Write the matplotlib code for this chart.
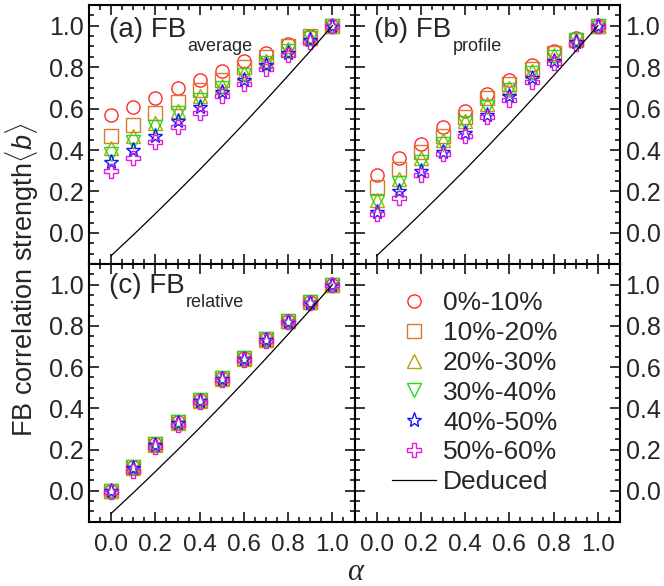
import numpy as np
import matplotlib
matplotlib.use('Agg')
import matplotlib.pyplot as plt
from matplotlib.ticker import MultipleLocator

plt.rcParams['font.family'] = ['Liberation Sans', 'DejaVu Sans']
plt.rcParams['mathtext.fontset'] = 'custom'
plt.rcParams['mathtext.rm'] = 'Liberation Sans'
plt.rcParams['mathtext.it'] = 'Liberation Sans:italic'
plt.rcParams['text.color'] = '#262626'
plt.rcParams['xtick.labelcolor'] = '#262626'
plt.rcParams['ytick.labelcolor'] = '#262626'

# data
alpha = [0.0, 0.1, 0.2, 0.3, 0.4, 0.5, 0.6, 0.7, 0.8, 0.9, 1.0]
labels = ['0%-10%', '10%-20%', '20%-30%', '30%-40%', '40%-50%', '50%-60%']

avg_b = [
    [0.57, 0.61, 0.65, 0.70, 0.74, 0.78, 0.83, 0.87, 0.91, 0.95, 1.00],
    [0.47, 0.52, 0.58, 0.63, 0.69, 0.74, 0.80, 0.85, 0.90, 0.95, 1.00],
    [0.41, 0.47, 0.53, 0.59, 0.66, 0.71, 0.77, 0.83, 0.89, 0.94, 1.00],
    [0.38, 0.44, 0.51, 0.58, 0.64, 0.70, 0.76, 0.82, 0.88, 0.94, 1.00],
    [0.34, 0.40, 0.47, 0.54, 0.61, 0.68, 0.74, 0.81, 0.87, 0.93, 1.00],
    [0.30, 0.36, 0.44, 0.51, 0.58, 0.66, 0.72, 0.79, 0.86, 0.92, 1.00],
]
prof_b = [
    [0.28, 0.36, 0.43, 0.51, 0.59, 0.67, 0.74, 0.81, 0.88, 0.94, 1.00],
    [0.22, 0.31, 0.39, 0.47, 0.56, 0.65, 0.72, 0.79, 0.87, 0.93, 1.00],
    [0.16, 0.26, 0.36, 0.45, 0.54, 0.62, 0.70, 0.78, 0.86, 0.93, 1.00],
    [0.15, 0.24, 0.34, 0.43, 0.53, 0.61, 0.69, 0.77, 0.85, 0.93, 1.00],
    [0.10, 0.20, 0.30, 0.39, 0.48, 0.57, 0.66, 0.75, 0.83, 0.92, 1.00],
    [0.09, 0.17, 0.28, 0.38, 0.47, 0.56, 0.64, 0.73, 0.82, 0.91, 1.00],
]
rel_b = [
    [0.00, 0.115, 0.225, 0.335, 0.44, 0.545, 0.645, 0.735, 0.825, 0.915, 1.00],
    [0.00, 0.115, 0.225, 0.335, 0.44, 0.545, 0.645, 0.735, 0.825, 0.915, 1.00],
    [0.00, 0.110, 0.220, 0.330, 0.435, 0.540, 0.640, 0.730, 0.825, 0.915, 1.00],
    [0.00, 0.115, 0.225, 0.335, 0.44, 0.545, 0.645, 0.735, 0.825, 0.915, 1.00],
    [0.00, 0.110, 0.220, 0.330, 0.435, 0.540, 0.640, 0.730, 0.820, 0.910, 1.00],
    [-0.005, 0.095, 0.210, 0.320, 0.43, 0.535, 0.635, 0.725, 0.820, 0.910, 1.00],
]
deduced = [-0.11, -0.01, 0.093, 0.198, 0.305, 0.415, 0.527, 0.642, 0.759, 0.878, 1.0]

colors = ['#ff2a2a', '#d9782a', '#b4a400', '#1fdc1f', '#1414ff', '#dc1edc']
markers = ['o', 's', '^', 'v', '*', 'P']
msizes = [9.5, 9.5, 10, 10, 11, 10]

W, H = 664, 586
fig = plt.figure(figsize=(6.64, 5.86), dpi=100)

def px_axes(x0, y0, x1, y1):
    return fig.add_axes([x0 / W, 1 - y1 / H, (x1 - x0) / W, (y1 - y0) / H])

xl, xm, xr = 89, 354.5, 620
yt, ym, yb = 5, 264, 521.7
ax_a = px_axes(xl, yt, xm, ym)
ax_b = px_axes(xm, yt, xr, ym)
ax_c = px_axes(xl, ym, xm, yb)
ax_d = px_axes(xm, ym, xr, yb)

for ax in [ax_a, ax_b, ax_c, ax_d]:
    ax.set_xlim(-0.1, 1.1)
    ax.set_ylim(-0.15, 1.1)
    ax.xaxis.set_major_locator(MultipleLocator(0.2))
    ax.xaxis.set_minor_locator(MultipleLocator(0.05))
    ax.yaxis.set_major_locator(MultipleLocator(0.2))
    ax.yaxis.set_minor_locator(MultipleLocator(0.05))
    ax.tick_params(which='both', direction='in', top=True, right=True, width=1.1)
    ax.tick_params(which='major', length=7)
    ax.tick_params(which='minor', length=3.5)
    ax.tick_params(axis='y', labelsize=18, pad=4)
    ax.tick_params(axis='x', pad=9)
    ax.xaxis.set_major_formatter(matplotlib.ticker.FormatStrFormatter('%.1f'))
    ax.yaxis.set_major_formatter(matplotlib.ticker.FormatStrFormatter('%.1f'))
    for s in ax.spines.values():
        s.set_linewidth(1.5)

for ax in [ax_a, ax_b]:
    ax.tick_params(axis='x', labelbottom=False)
for ax in [ax_b, ax_d]:
    ax.tick_params(axis='y', labelleft=False, labelright=True)
for ax in [ax_c, ax_d]:
    for t in ax.get_xticklabels():
        t.set_family(['Liberation Sans Narrow', 'Liberation Sans'])
        t.set_fontsize(17.5)

def draw(ax, data):
    handles = []
    for i in range(6):
        h, = ax.plot(alpha, data[i], linestyle='none', marker=markers[i],
                     markersize=msizes[i], markerfacecolor='none',
                     markeredgecolor=colors[i], markeredgewidth=1.0,
                     label=labels[i])
        handles.append(h)
    h, = ax.plot(alpha, deduced, color='black', lw=0.9, label='Deduced')
    handles.append(h)
    return handles

draw(ax_a, avg_b)
draw(ax_b, prof_b)
handles = draw(ax_c, rel_b)

def panel_label(ax, main, sub, ybase):
    t = ax.text(0.075, ybase, main, transform=ax.transAxes, fontsize=20,
                va='baseline', ha='left')
    ax.annotate(sub, xy=(1, 0), xycoords=t, xytext=(1, -6),
                textcoords='offset points', fontsize=13, va='baseline')

panel_label(ax_a, '(a) FB', 'average', 0.878)
panel_label(ax_b, '(b) FB', 'profile', 0.878)
panel_label(ax_c, '(c) FB', 'relative', 0.888)

ax_d.legend(handles=handles, loc='upper left', bbox_to_anchor=(0.1, 0.935),
            frameon=False, fontsize=19, handlelength=1.7, handletextpad=0.25,
            labelspacing=0.22, borderaxespad=0)

fig.text(22 / W, 1 - 280 / H, r'FB correlation strength$\langle b\rangle$',
         rotation=90, fontsize=19.5, ha='center', va='center')
fig.text(355 / W, 1 - 572 / H, 'α', fontsize=22, fontstyle='italic',
         family='Liberation Serif', ha='center', va='center')

fig.savefig('out.png', dpi=100)
